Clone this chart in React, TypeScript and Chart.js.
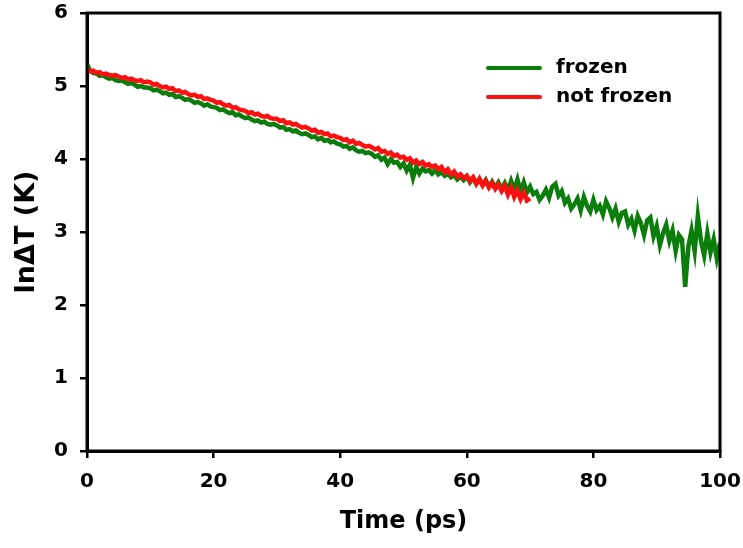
import React, { useEffect, useRef } from "react";
import { Chart, registerables } from "chart.js";

Chart.register(...registerables);

// Sampling interval of both series (ps)
const STEP = 0.5;

// axis ticks
const xTicks = [0, 20, 40, 60, 80, 100];
const yTicks = [0, 1, 2, 3, 4, 5, 6];

// "frozen" series: ln(ΔT) sampled every 0.5 ps from 0 to 100 ps
const frozen = [
  5.30, 5.21, 5.18, 5.17, 5.14, 5.15, 5.12, 5.10, 5.11, 5.08,
  5.07, 5.08, 5.05, 5.03, 5.04, 5.02, 4.99, 5.00, 4.98, 4.98,
  4.97, 4.94, 4.95, 4.93, 4.90, 4.91, 4.88, 4.89, 4.85, 4.86,
  4.84, 4.81, 4.82, 4.80, 4.77, 4.78, 4.76, 4.73, 4.75, 4.72,
  4.71, 4.70, 4.67, 4.68, 4.65, 4.63, 4.64, 4.60, 4.61, 4.58,
  4.56, 4.57, 4.54, 4.52, 4.53, 4.50, 4.51, 4.48, 4.47, 4.48,
  4.46, 4.43, 4.44, 4.40, 4.41, 4.38, 4.39, 4.36, 4.34, 4.35,
  4.33, 4.30, 4.31, 4.27, 4.29, 4.25, 4.26, 4.23, 4.24, 4.21,
  4.20, 4.17, 4.18, 4.14, 4.16, 4.12, 4.10, 4.11, 4.08, 4.09,
  4.07, 4.03, 4.05, 3.99, 4.02, 3.93, 4.00, 3.95, 3.96, 3.89,
  3.94, 3.84, 3.92, 3.74, 3.89, 3.80, 3.87, 3.83, 3.85, 3.80,
  3.85, 3.79, 3.82, 3.77, 3.80, 3.75, 3.78, 3.72, 3.76, 3.71,
  3.76, 3.68, 3.74, 3.66, 3.72, 3.64, 3.71, 3.62, 3.69, 3.61,
  3.68, 3.59, 3.67, 3.57, 3.70, 3.58, 3.72, 3.55, 3.68, 3.54,
  3.62, 3.52, 3.55, 3.44, 3.50, 3.58, 3.47, 3.62, 3.66, 3.50,
  3.56, 3.40, 3.46, 3.32, 3.38, 3.46, 3.30, 3.48, 3.36, 3.28,
  3.44, 3.30, 3.36, 3.24, 3.42, 3.33, 3.20, 3.32, 3.14, 3.26,
  3.28, 3.10, 3.18, 3.02, 3.22, 3.12, 2.96, 3.16, 3.20, 2.94,
  3.08, 2.82, 2.98, 3.10, 2.88, 3.02, 2.74, 2.96, 2.90, 2.25,
  2.80, 3.02, 2.74, 3.22, 2.88, 2.68, 2.98, 2.72, 2.90, 2.64,
  2.85,
];

// "not frozen" series: ln(ΔT) sampled every 0.5 ps from 0 to 70 ps
const notFrozen = [
  5.22, 5.20, 5.21, 5.18, 5.19, 5.16, 5.17, 5.15, 5.14, 5.15,
  5.13, 5.11, 5.12, 5.09, 5.10, 5.08, 5.07, 5.08, 5.05, 5.06,
  5.05, 5.02, 5.03, 5.00, 4.98, 4.99, 4.96, 4.97, 4.93, 4.94,
  4.91, 4.92, 4.89, 4.87, 4.88, 4.85, 4.86, 4.82, 4.83, 4.81,
  4.80, 4.77, 4.78, 4.75, 4.73, 4.74, 4.70, 4.71, 4.68, 4.67,
  4.66, 4.63, 4.64, 4.61, 4.62, 4.59, 4.58, 4.59, 4.56, 4.55,
  4.55, 4.52, 4.53, 4.49, 4.50, 4.47, 4.48, 4.45, 4.43, 4.44,
  4.42, 4.39, 4.40, 4.36, 4.37, 4.34, 4.35, 4.31, 4.32, 4.30,
  4.29, 4.26, 4.27, 4.23, 4.25, 4.21, 4.22, 4.19, 4.17, 4.18,
  4.16, 4.13, 4.15, 4.10, 4.11, 4.07, 4.09, 4.04, 4.06, 4.02,
  4.03, 3.99, 4.01, 3.95, 3.98, 3.93, 3.96, 3.91, 3.93, 3.89,
  3.91, 3.86, 3.89, 3.82, 3.86, 3.79, 3.83, 3.76, 3.79, 3.74,
  3.77, 3.70, 3.75, 3.66, 3.73, 3.64, 3.70, 3.61, 3.67, 3.59,
  3.65, 3.56, 3.63, 3.51, 3.61, 3.48, 3.57, 3.45, 3.54, 3.43,
  3.46,
];

const seriesNames = ["frozen", "not frozen"];
const GREEN = "#0b7d0b";
const RED = "#ff1010";
const FONT = "'DejaVu Sans', 'Liberation Sans', Arial, sans-serif";

const framePlugin = {
  id: "frame",
  afterDraw(chart: any) {
    const { ctx, chartArea } = chart;
    const { left, top, right, bottom } = chartArea;
    ctx.save();
    ctx.strokeStyle = "#000";
    ctx.lineWidth = 3;
    ctx.strokeRect(left, top, right - left, bottom - top);
    // legend
    const items = [
      { label: seriesNames[0], color: GREEN },
      { label: seriesNames[1], color: RED },
    ];
    const lx = left + 401;
    const ly = top + 55;
    items.forEach((it, i) => {
      const y = ly + i * 29;
      ctx.strokeStyle = it.color;
      ctx.lineWidth = 4;
      ctx.lineCap = "round";
      ctx.beginPath();
      ctx.moveTo(lx, y);
      ctx.lineTo(lx + 52, y);
      ctx.stroke();
      ctx.fillStyle = "#000";
      ctx.font = `bold 20px ${FONT}`;
      ctx.textBaseline = "middle";
      ctx.textAlign = "left";
      ctx.fillText(it.label, lx + 68, y);
    });
    ctx.restore();
  },
};

export default function App() {
  const ref = useRef<HTMLCanvasElement | null>(null);

  useEffect(() => {
    document.body.style.margin = "0";
    const canvas = ref.current;
    if (!canvas) return;
    const chart = new Chart(canvas, {
      type: "line",
      data: {
        datasets: [
          {
            label: seriesNames[1],
            data: notFrozen.map((y, i) => ({ x: i * STEP, y })),
            borderColor: RED,
            backgroundColor: RED,
            borderWidth: 4.5,
            pointRadius: 0,
            tension: 0,
            order: 0,
          },
          {
            label: seriesNames[0],
            data: frozen.map((y, i) => ({ x: i * STEP, y })),
            borderColor: GREEN,
            backgroundColor: GREEN,
            borderWidth: 4.5,
            pointRadius: 0,
            tension: 0,
            order: 1,
          },
        ],
      },
      options: {
        animation: false,
        responsive: true,
        maintainAspectRatio: false,
        layout: { padding: { left: 0, top: 13, right: 23, bottom: 0 } },
        plugins: { legend: { display: false }, tooltip: { enabled: false } },
        scales: {
          x: {
            type: "linear",
            min: 0,
            max: 100,
            afterFit: (s: any) => {
              s.height = 97;
              s.paddingLeft = 0;
              s.paddingRight = 0;
            },
            afterBuildTicks: (s: any) => {
              s.ticks = xTicks.map((v) => ({ value: v }));
            },
            ticks: {
              color: "#000",
              font: { family: FONT, size: 20, weight: "bold" },
              padding: 12,
              maxRotation: 0,
            },
            grid: {
              drawOnChartArea: false,
              drawTicks: true,
              tickLength: 7,
              lineWidth: 2.5,
              color: "#000",
            },
            border: { display: true, width: 3, color: "#000" },
            title: {
              display: true,
              text: "Time (ps)",
              color: "#000",
              font: { family: FONT, size: 24, weight: "bold" },
              padding: { top: 0, bottom: 12 },
            },
          },
          y: {
            type: "linear",
            min: 0,
            max: 6,
            afterFit: (s: any) => {
              s.width = 87;
              s.paddingTop = 0;
              s.paddingBottom = 0;
            },
            afterBuildTicks: (s: any) => {
              s.ticks = yTicks.map((v) => ({ value: v }));
            },
            ticks: {
              color: "#000",
              font: { family: FONT, size: 20, weight: "bold" },
              padding: 12,
            },
            grid: {
              drawOnChartArea: false,
              drawTicks: true,
              tickLength: 7,
              lineWidth: 2.5,
              color: "#000",
            },
            border: { display: true, width: 3, color: "#000" },
            title: {
              display: true,
              text: "lnΔT (K)",
              color: "#000",
              font: { family: FONT, size: 27, weight: "bold" },
              padding: { top: 11, bottom: 0 },
            },
          },
        },
      },
      plugins: [framePlugin],
    });
    return () => chart.destroy();
  }, []);

  return (
    <div style={{ position: "relative", width: 743, height: 548 }}>
      <canvas ref={ref} />
    </div>
  );
}
